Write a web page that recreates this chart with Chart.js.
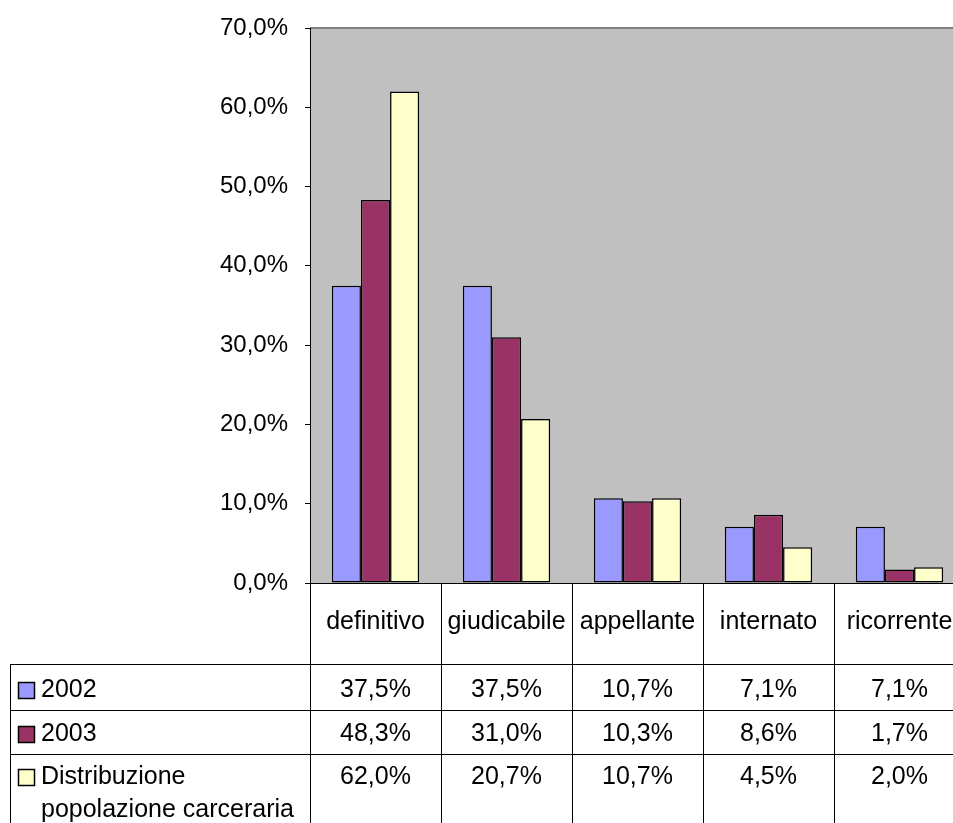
<!DOCTYPE html>
<html>
<head>
<meta charset="utf-8">
<script src="https://cdn.jsdelivr.net/npm/chart.js@4/dist/chart.umd.min.js"></script>
<style>
  html, body { margin: 0; padding: 0; overflow: hidden; background: #fff; }
  canvas { display: block; }
</style>
</head>
<body>
<canvas id="grafico" width="980" height="823"></canvas>
<script>
const categorie = ['definitivo', 'giudicabile', 'appellante', 'internato', 'ricorrente'];
const nomiSerie = ['2002', '2003', 'Distribuzione popolazione carceraria'];
const valori2002 = [37.5, 37.5, 10.7, 7.1, 7.1];
const valori2003 = [48.3, 31.0, 10.3, 8.6, 1.7];
const valoriDistribuzione = [62.0, 20.7, 10.7, 4.5, 2.0];
const ticksY = [0, 10, 20, 30, 40, 50, 60, 70];

const colori = ['#9999FF', '#993366', '#FFFFCC'];
const FONT = '"Liberation Sans", Arial, sans-serif';

const formatPerc = (v) => v.toFixed(1).replace('.', ',') + '%';

// sfondo grigio dell'area del grafico
const sfondoPlot = {
  id: 'sfondoPlot',
  beforeDraw(chart) {
    const { ctx, chartArea: a } = chart;
    ctx.save();
    ctx.fillStyle = '#C0C0C0';
    ctx.fillRect(a.left, a.top, a.right - a.left, a.bottom - a.top);
    ctx.strokeStyle = '#808080';
    ctx.lineWidth = 2;
    ctx.beginPath();
    ctx.moveTo(a.left, a.top);
    ctx.lineTo(chart.width, a.top);
    ctx.stroke();
    ctx.restore();
  }
};

// tabella dati sotto il grafico
const tabellaDati = {
  id: 'tabellaDati',
  afterDraw(chart) {
    const { ctx, chartArea: a } = chart;
    const x = chart.scales.x;
    const n = categorie.length;
    const larg = (a.right - a.left) / n;
    const fondo = chart.height;
    const righe = [664, 710, 754];
    const yTesto = [690, 734, 777];

    ctx.save();
    ctx.strokeStyle = '#000';
    ctx.lineWidth = 1;
    ctx.beginPath();
    for (let i = 0; i <= n; i++) {
      const xx = Math.round(x.getPixelForValue(0) - larg / 2 + i * larg) + 0.5;
      ctx.moveTo(xx, a.bottom);
      ctx.lineTo(xx, fondo);
    }
    righe.forEach(r => {
      ctx.moveTo(10, r + 0.5);
      ctx.lineTo(chart.width, r + 0.5);
    });
    ctx.moveTo(10.5, righe[0]);
    ctx.lineTo(10.5, fondo);
    ctx.stroke();

    ctx.fillStyle = '#000';
    ctx.font = '25px ' + FONT;
    ctx.textAlign = 'center';
    ctx.textBaseline = 'middle';
    categorie.forEach((c, i) => {
      ctx.fillText(c, x.getPixelForValue(i), 622);
    });

    chart.data.datasets.forEach((ds, s) => {
      ctx.textAlign = 'center';
      ds.data.forEach((v, i) => {
        ctx.fillText(formatPerc(v), x.getPixelForValue(i), yTesto[s]);
      });

      // legenda nella prima colonna
      ctx.fillStyle = ds.backgroundColor;
      ctx.fillRect(18.5, yTesto[s] - 7.5, 16, 16);
      ctx.strokeStyle = '#000';
      ctx.lineWidth = 1.5;
      ctx.strokeRect(18.5, yTesto[s] - 7.5, 16, 16);
      ctx.fillStyle = '#000';
      ctx.textAlign = 'left';

      const parole = ds.label.split(' ');
      const linee = [];
      let cur = '';
      parole.forEach(p => {
        const prova = cur ? cur + ' ' + p : p;
        if (ctx.measureText(prova).width > 265 && cur) {
          linee.push(cur);
          cur = p;
        } else {
          cur = prova;
        }
      });
      linee.push(cur);
      linee.forEach((l, k) => ctx.fillText(l, 41, yTesto[s] + k * 33));
    });
    ctx.restore();
  }
};

new Chart(document.getElementById('grafico'), {
  type: 'bar',
  data: {
    labels: categorie,
    datasets: [
      { label: nomiSerie[0], data: valori2002, backgroundColor: colori[0] },
      { label: nomiSerie[1], data: valori2003, backgroundColor: colori[1] },
      { label: nomiSerie[2], data: valoriDistribuzione, backgroundColor: colori[2] }
    ].map(d => Object.assign(d, {
      borderColor: '#000',
      borderWidth: 1.5,
      borderSkipped: false,
      categoryPercentage: 0.667,
      barPercentage: 1
    }))
  },
  options: {
    responsive: false,
    animation: false,
    layout: { padding: { top: 28, right: 15, bottom: 240, left: 0 } },
    plugins: {
      legend: { display: false },
      tooltip: { enabled: false }
    },
    scales: {
      x: {
        grid: { display: false },
        border: { color: '#000', width: 1 },
        ticks: { display: false },
        afterFit: (s) => { s.height = 0; }
      },
      y: {
        min: 0,
        max: 70,
        afterBuildTicks: (s) => { s.ticks = ticksY.map(v => ({ value: v })); },
        afterFit: (s) => { s.width = 310; s.paddingTop = 0; s.paddingBottom = 0; },
        ticks: {
          callback: (v) => formatPerc(v),
          color: '#000',
          padding: 17,
          font: { family: FONT, size: 24 }
        },
        grid: { drawOnChartArea: false, tickLength: 5, color: '#000' },
        border: { color: '#000', width: 1 }
      }
    }
  },
  plugins: [sfondoPlot, tabellaDati]
});
</script>
</body>
</html>
